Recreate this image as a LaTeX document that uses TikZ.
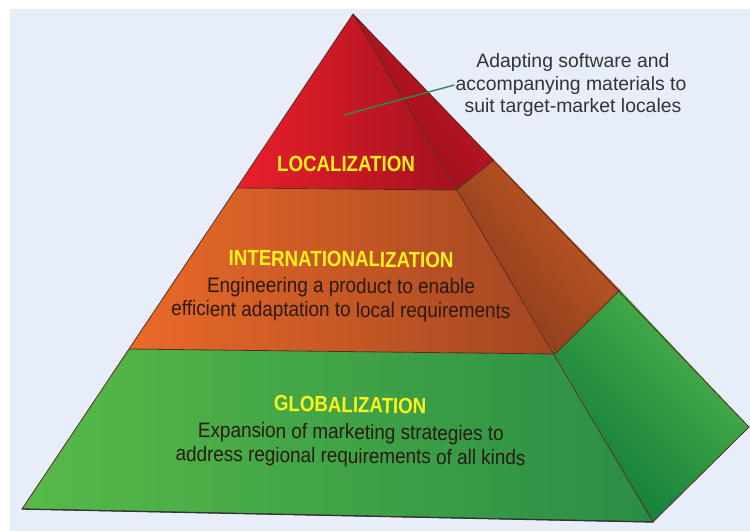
\documentclass[tikz,border=0pt]{standalone}
\usepackage{fontspec}
\setmainfont{Liberation Sans}
\newfontfamily\headfont{Liberation Sans}[FakeStretch=0.85]
\newfontfamily\descfont{Liberation Sans}[FakeStretch=0.9]

\definecolor{bgblue}{HTML}{E8EEF9}
\definecolor{edgecol}{HTML}{5A2A1C}
\definecolor{redL}{HTML}{EA1F2B}
\definecolor{redR}{HTML}{A3121E}
\definecolor{redSd}{HTML}{8E0F1B}
\definecolor{redSl}{HTML}{CC1824}
\definecolor{orL}{HTML}{EA6A28}
\definecolor{orR}{HTML}{A24622}
\definecolor{orSd}{HTML}{86381C}
\definecolor{orSl}{HTML}{C65C24}
\definecolor{grL}{HTML}{57BA48}
\definecolor{grR}{HTML}{2A8D45}
\definecolor{grSd}{HTML}{0E7A3A}
\definecolor{grSl}{HTML}{50B44A}
\definecolor{headyellow}{HTML}{FFF21C}
\definecolor{desctext}{HTML}{2A1A12}
\definecolor{anntext}{HTML}{333333}
\definecolor{leadgreen}{HTML}{2E8A55}

\begin{document}
\begin{tikzpicture}[x=1pt,y=-1pt,
  edge/.style={draw=edgecol,line width=0.8pt,line join=round},
  baseedge/.style={draw=black!80,line width=1.3pt,line cap=round},
  heading/.style={inner sep=0pt,anchor=base,text=headyellow,
    font=\headfont\bfseries\fontsize{22}{26}\selectfont},
  desc/.style={inner sep=0pt,anchor=center,align=center,text=desctext,
    font=\descfont\fontsize{21}{24}\selectfont},
  annot/.style={inner sep=0pt,anchor=base,text=anntext,
    font=\fontsize{19.4}{22.7}\selectfont},
  leader/.style={draw=leadgreen,line width=1.4pt}]

\useasboundingbox (0,0) rectangle (750,531);
\fill[white] (0,0) rectangle (750,531);
\fill[bgblue] (10,9) rectangle (750,531);

% corner points of the pyramid
\coordinate (apex) at (353,14);
\coordinate (lr) at (237,188);
\coordinate (fr) at (456,190);
\coordinate (sr) at (494,160);
\coordinate (lo) at (129,349);
\coordinate (fo) at (555,354);
\coordinate (so) at (620,290);
\coordinate (lg) at (22,509);
\coordinate (fg) at (653,522);
\coordinate (sg) at (749,427);

% front faces
\shade[left color=redL,right color=redR] (apex) -- (fr) -- (lr) -- cycle;
\shade[left color=orL,right color=orR] (lr) -- (fr) -- (fo) -- (lo) -- cycle;
\shade[left color=grL,right color=grR] (lo) -- (fo) -- (fg) -- (lg) -- cycle;

% side faces
\shade[shading=axis,top color=redSl,bottom color=redSd,shading angle=-50]
  (apex) -- (sr) -- (fr) -- cycle;
\shade[shading=axis,top color=orSl,bottom color=orSd,shading angle=-50]
  (fr) -- (sr) -- (so) -- (fo) -- cycle;
\shade[shading=axis,top color=grSl,bottom color=grSd,shading angle=-45]
  (fo) -- (so) -- (sg) -- (fg) -- cycle;

% outlines
\draw[edge] (apex) -- (lg) -- (fg) -- (sg) -- cycle;
\draw[edge] (apex) -- (fg);
\draw[edge] (lr) -- (fr) -- (sr);
\draw[edge] (lo) -- (fo) -- (so);
\draw[baseedge] (lg) -- (fg);

% band texts
\node[heading,rotate=-0.3] (loc) at (346,171.7) {LOCALIZATION};

\node[heading,rotate=-0.5] (intl) at (341,266.7) {INTERNATIONALIZATION};
\node[desc,rotate=-0.4] (intldesc) at (341,299.5)
  {Engineering a product to enable\\efficient adaptation to local requirements};

\node[heading,rotate=-1.2] (glob) at (350,412.5) {GLOBALIZATION};
\node[desc,rotate=-0.7] (globdesc) at (350.7,445.6)
  {Expansion of marketing strategies to\\address regional requirements of all kinds};

% annotation with leader line
\node[annot] (ann1) at (573,67.3) {Adapting software and};
\node[annot] (ann2) at (571,90) {accompanying materials to};
\node[annot] (ann3) at (573,112.7) {suit target-market locales};
\coordinate (tip) at (344,115);
\draw[leader] (tip) -- ([xshift=-1pt]ann2.west);
\end{tikzpicture}
\end{document}
